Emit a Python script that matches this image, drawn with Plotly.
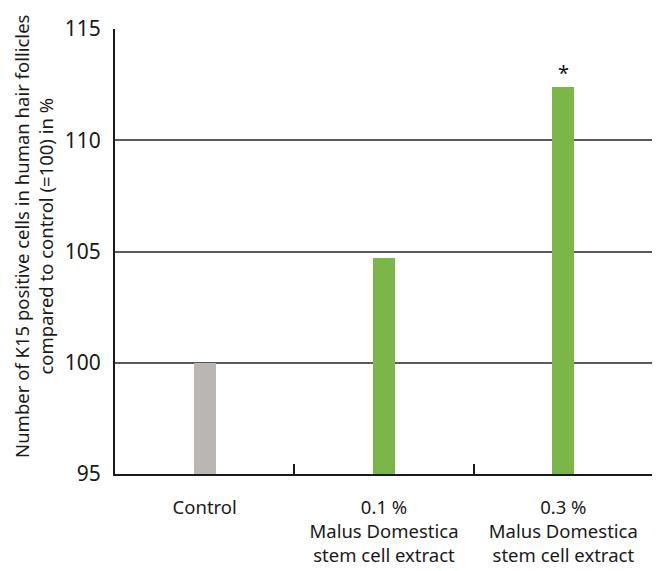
import plotly.graph_objects as go

categories = ["Control", "0.1 %<br>Malus Domestica<br>stem cell extract", "0.3 %<br>Malus Domestica<br>stem cell extract"]
values = [100.0, 104.7, 112.4]
significance = ["", "", "*"]
bar_colors = ["#bab6b2", "#7ab648", "#7ab648"]
y_ticks = [95, 100, 105, 110, 115]
y_title = "Number of K15 positive cells in human hair follicles<br>compared to control (=100) in %"
FONT = "Noto Sans"

fig = go.Figure()
fig.add_trace(go.Bar(
    x=categories, y=[v - 95 for v in values], base=95, marker_color=bar_colors, width=0.123,
    marker_line_width=0, showlegend=False,
))

for c, v, s in zip(categories, values, significance):
    if s:
        fig.add_annotation(x=c, y=v, text=s, showarrow=False, yanchor="bottom",
                           yshift=-1, font=dict(size=20, color="#111", family=FONT))

fig.add_annotation(xref="paper", yref="paper", x=-0.1506, y=0.535, text=y_title,
                   textangle=-90, showarrow=False, xanchor="center", yanchor="middle",
                   font=dict(size=18.5, family=FONT, color="#1a1a1a"))

fig.update_layout(
    width=652, height=563,
    margin=dict(l=107, r=7, t=21, b=97),
    plot_bgcolor="white", paper_bgcolor="white",
    font=dict(family=FONT, color="#1a1a1a"),
    bargap=0,
)
fig.update_xaxes(
    automargin=False,
    showline=True, linecolor="#1a1a1a", linewidth=2,
    ticks="inside", tickson="boundaries", ticklen=10, tickwidth=2, tickcolor="#1a1a1a",
    tickfont=dict(size=18.5), ticklabelstandoff=16, showgrid=False,
)
fig.update_yaxes(
    automargin=False,
    range=[95, 115], tickvals=y_ticks, showline=True, linecolor="#1a1a1a", linewidth=2,
    showgrid=True, gridcolor="#5a5a5a", gridwidth=1.5, zeroline=False,
    tickfont=dict(size=21), ticklabelstandoff=8,
)
fig.write_html("out.html")
